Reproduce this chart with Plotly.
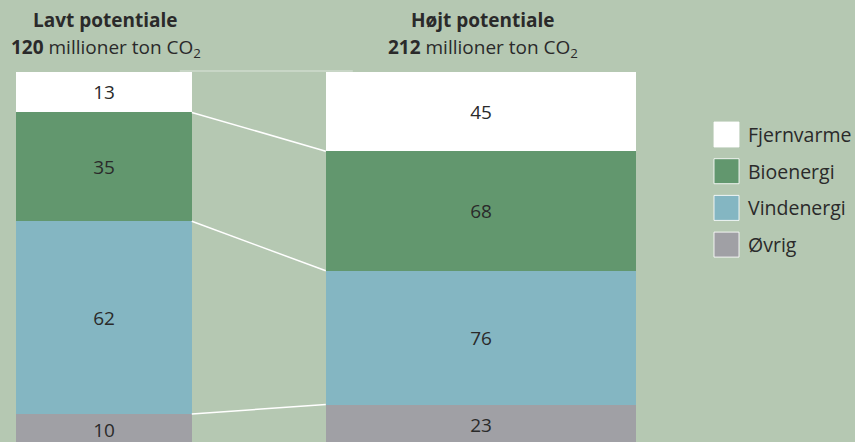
import plotly.graph_objects as go

# ---- data ----
scenarios = ["Lavt potentiale", "Højt potentiale"]
totals = [120, 212]
categories = ["Fjernvarme", "Bioenergi", "Vindenergi", "Øvrig"]
fjernvarme = [13, 45]
bioenergi = [35, 68]
vindenergi = [62, 76]
ovrig = [10, 23]

# ---- style ----
W, H = 855, 442
BG = "#b5c8b2"
colors = {"Fjernvarme": "#ffffff", "Bioenergi": "#62976e",
          "Vindenergi": "#84b6c2", "Øvrig": "#a0a0a5"}
FONT = "Open Sans"
TXT = "#2a2a2a"

series = {"Fjernvarme": fjernvarme, "Bioenergi": bioenergi,
          "Vindenergi": vindenergi, "Øvrig": ovrig}

k = 1.465          # px per unit of total (bar width ∝ total)
start = 16         # left edge of first bar (px)
gap = 134          # gap between bars (px)

widths = [t * k for t in totals]
lefts = [start, start + widths[0] + gap]
centers = [l + w / 2 for l, w in zip(lefts, widths)]

fig = go.Figure()
stack_order = categories[::-1]  # bottom to top
for cat in stack_order:
    vals = series[cat]
    pct = [v / t * 100 for v, t in zip(vals, totals)]
    fig.add_trace(go.Bar(
        x=centers, y=pct, width=widths, name=cat,
        marker=dict(color=colors[cat], line=dict(width=0)),
        text=[str(v) for v in vals], textposition="inside",
        insidetextanchor="middle", textangle=0, constraintext="none",
        textfont=dict(family=FONT, size=19, color=TXT),
        showlegend=False, hoverinfo="skip",
    ))

# connecting lines between cumulative boundaries
cum = [[0, 0]]
for cat in stack_order:
    prev = cum[-1]
    cum.append([prev[i] + series[cat][i] / totals[i] * 100 for i in range(2)])
shapes = []
x0 = lefts[0] + widths[0]
x1 = lefts[1]
for c in cum[1:-1]:
    shapes.append(dict(type="line", xref="x", yref="y", x0=x0, x1=x1,
                       y0=c[0], y1=c[1],
                       line=dict(color="white", width=1.5), layer="above"))
top = cum[-1]
shapes.append(dict(type="line", xref="x", yref="y", x0=x0 - 12, x1=x1 + 27,
                   y0=top[0] + 0.3, y1=top[1] + 0.3,
                   line=dict(color="rgba(255,255,255,0.35)", width=1.5),
                   layer="below"))

def px(x):
    return x / W

def py(y):
    return 1 - y / H

annotations = []
# titles
for c, name, tot in zip(centers, scenarios, totals):
    annotations.append(dict(x=px(c + 2), y=py(20), xref="paper", yref="paper",
                            text=f"<b>{name}</b>", showarrow=False,
                            xanchor="center", yanchor="middle",
                            font=dict(family=FONT, size=19, color=TXT)))
    annotations.append(dict(x=px(c + 2), y=py(48), xref="paper", yref="paper",
                            text=f"<b>{tot}</b> millioner ton CO<sub>2</sub>",
                            showarrow=False, xanchor="center", yanchor="middle",
                            font=dict(family=FONT, size=19, color=TXT)))

# legend (manual, large squares)
leg_top = 122
step = 36.7
sq = 25
for i, cat in enumerate(categories):
    y0 = leg_top + i * step
    shapes.append(dict(type="rect", xref="paper", yref="paper",
                       x0=px(714), x1=px(714 + sq), y0=py(y0), y1=py(y0 + sq),
                       fillcolor=colors[cat],
                       line=dict(color="rgba(255,255,255,0.85)", width=1)))
    annotations.append(dict(x=px(746), y=py(y0 + sq / 2), xref="paper",
                            yref="paper", text=cat, showarrow=False,
                            xanchor="left", yanchor="middle",
                            font=dict(family=FONT, size=19.5, color=TXT)))

# y mapping: 100 at px 72, 0 at px 445
top_px, bot_px = 72, 445
upp = 100 / (bot_px - top_px)
y_hi = 100 + top_px * upp
y_lo = 100 - (H - top_px) * upp

fig.update_layout(
    width=W, height=H, barmode="stack", bargap=0,
    paper_bgcolor=BG, plot_bgcolor=BG,
    margin=dict(l=0, r=0, t=0, b=0),
    xaxis=dict(range=[0, W], visible=False, fixedrange=True),
    yaxis=dict(range=[y_lo, y_hi], visible=False, fixedrange=True),
    shapes=shapes, annotations=annotations,
    font=dict(family=FONT),
    uniformtext=dict(mode=False),
)

fig.write_html("out.html", config={"displayModeBar": False},
               post_script="document.body.style.margin='0';")
